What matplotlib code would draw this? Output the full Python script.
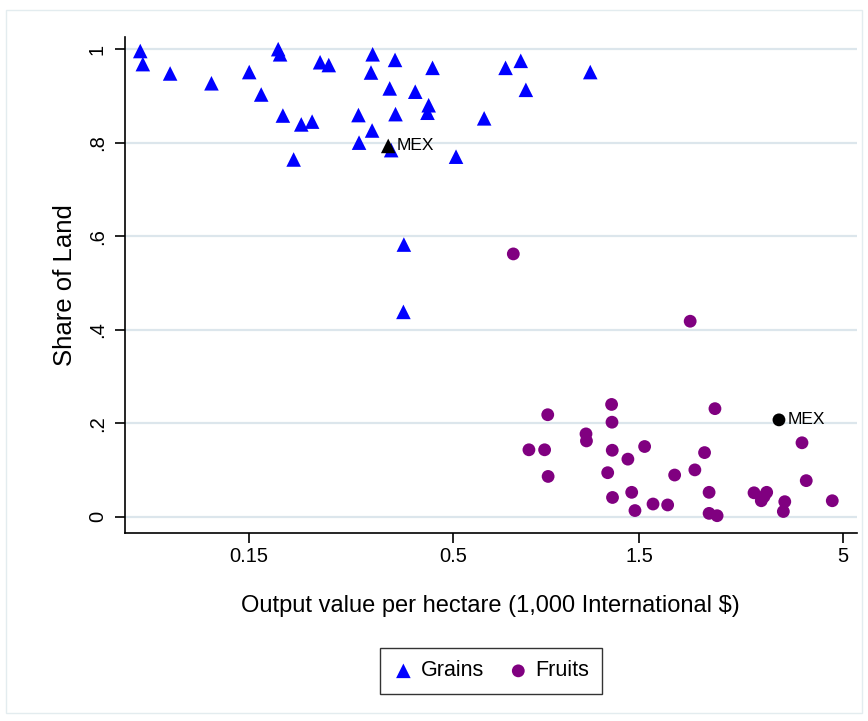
import matplotlib
matplotlib.use("Agg")
import matplotlib.pyplot as plt
from matplotlib.patches import Rectangle

plt.rcParams['font.family'] = ['Liberation Sans', 'DejaVu Sans']

# Grains: output value per hectare (1,000 Intl $), share of land
grains_x = [0.0788, 0.080, 0.094, 0.120, 0.150, 0.161, 0.178, 0.180, 0.183, 0.195,
            0.204, 0.2175, 0.228, 0.240, 0.311, 0.355, 0.308, 0.443, 0.344, 0.400,
            0.433, 0.430, 0.286, 0.356, 0.310, 0.287, 0.347, 0.509, 0.601, 0.682,
            0.746, 0.769, 1.125, 0.374, 0.373]
grains_y = [0.996, 0.968, 0.948, 0.927, 0.951, 0.903, 1.000, 0.989, 0.858, 0.764,
            0.839, 0.845, 0.972, 0.966, 0.989, 0.977, 0.950, 0.960, 0.916, 0.909,
            0.880, 0.864, 0.859, 0.861, 0.826, 0.800, 0.784, 0.770, 0.852, 0.960,
            0.975, 0.913, 0.951, 0.582, 0.438]

# Fruits
fruits_x = [0.714, 2.03, 0.875, 1.276, 1.279, 1.097, 1.10, 0.783, 0.859, 1.281,
            1.551, 1.405, 0.877, 1.247, 1.852, 1.283, 1.437, 1.465, 1.630, 1.777,
            2.35, 3.93, 2.21, 2.087, 4.03, 2.27, 2.96, 3.19, 3.09, 3.14,
            3.55, 3.52, 4.70, 2.27, 2.38]
fruits_y = [0.562, 0.418, 0.218, 0.240, 0.202, 0.177, 0.162, 0.143, 0.143, 0.142,
            0.150, 0.123, 0.086, 0.094, 0.089, 0.041, 0.052, 0.013, 0.027, 0.025,
            0.231, 0.158, 0.137, 0.100, 0.077, 0.052, 0.051, 0.052, 0.034, 0.043,
            0.032, 0.011, 0.034, 0.007, 0.002]

# Mexico
mex_grain = (0.341, 0.793)
mex_fruit = (3.43, 0.207)

x_ticks = [0.15, 0.5, 1.5, 5]
x_tick_labels = ["0.15", "0.5", "1.5", "5"]
y_ticks = [0, 0.2, 0.4, 0.6, 0.8, 1.0]
y_tick_labels = ["0", ".2", ".4", ".6", ".8", "1"]

fig = plt.figure(figsize=(8.68, 7.21), dpi=100)
fig.patches.append(Rectangle((6 / 868, 8 / 721), 856 / 868, 703 / 721, transform=fig.transFigure,
                             fill=False, edgecolor='#e3ecef', linewidth=1.0))
ax = fig.add_axes([0.144, 1 - 533 / 721, 0.843, (533 - 37) / 721])
ax.set_xscale('log')
ax.set_xlim(0.072, 5.43)
ax.set_ylim(-0.035, 1.026)

for yt in y_ticks:
    ax.axhline(yt, color='#dce6ec', linewidth=1.6, zorder=0)

ax.scatter(grains_x, grains_y, marker='^', s=110, color='#0000ff', edgecolors='none',
           zorder=3, label='Grains')
ax.scatter(fruits_x, fruits_y, marker='o', s=85, color='#800080', edgecolors='none',
           zorder=3, label='Fruits')
ax.scatter([mex_grain[0]], [mex_grain[1]], marker='^', s=110, color='black',
           edgecolors='none', zorder=4)
ax.scatter([mex_fruit[0]], [mex_fruit[1]], marker='o', s=85, color='black',
           edgecolors='none', zorder=4)
ax.annotate('MEX', mex_grain, xytext=(6, 0), textcoords='offset points',
            va='center', ha='left', fontsize=12.5)
ax.annotate('MEX', mex_fruit, xytext=(6, 0), textcoords='offset points',
            va='center', ha='left', fontsize=12.5)

ax.set_xticks(x_ticks)
ax.set_xticklabels(x_tick_labels)
ax.xaxis.set_minor_locator(matplotlib.ticker.NullLocator())
ax.set_yticks(y_ticks)
ax.set_yticklabels(y_tick_labels, rotation=90, va='center')
ax.tick_params(axis='both', labelsize=14.5, length=7, width=1.2, direction='out')
ax.tick_params(axis='x', pad=3)
ax.tick_params(axis='y', pad=6)

for s in ['top', 'right']:
    ax.spines[s].set_visible(False)
for s in ['left', 'bottom']:
    ax.spines[s].set_linewidth(1.2)

ax.set_xlabel('Output value per hectare (1,000 International $)', fontsize=17, labelpad=21)
ax.set_ylabel('Share of Land', fontsize=18.5, labelpad=8)

leg = ax.legend(loc='center', ncol=2, frameon=True, fontsize=15.5, fancybox=False,
                handletextpad=0.3, columnspacing=1.1, borderpad=0.6, handlelength=1.0,
                scatterpoints=1)
leg.set_bbox_to_anchor((491 / 868, 1 - 671 / 721), transform=fig.transFigure)
leg.get_frame().set_edgecolor('black')
leg.get_frame().set_linewidth(1.0)

fig.savefig('out.png', dpi=100)
